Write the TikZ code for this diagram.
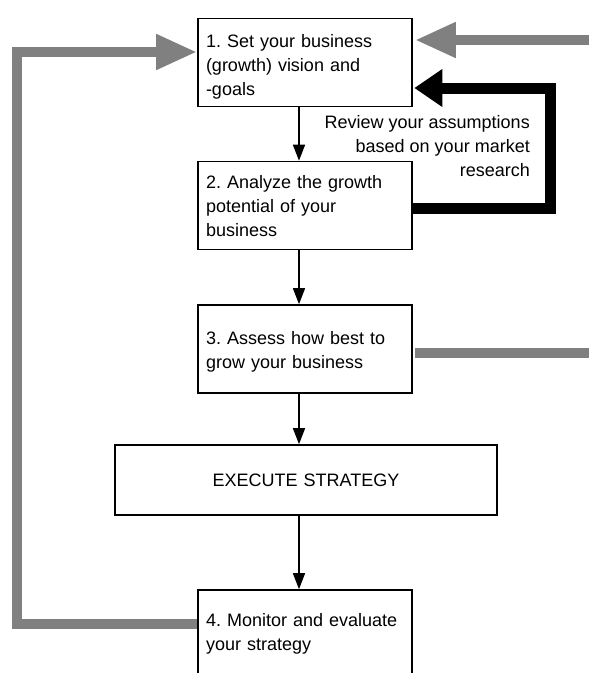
\documentclass[tikz,border=0pt]{standalone}
\usepackage{fontspec}
\setmainfont{Liberation Sans}
\usetikzlibrary{arrows.meta,calc}
\definecolor{band}{HTML}{808080}
\newcommand\dropby[1]{\rule{0pt}{\dimexpr 12.9pt+#1pt+#1pt\relax}}
\frenchspacing
\begin{document}
\begin{tikzpicture}[x=1pt,y=-1pt,
  txt/.style={font=\fontsize{18}{24}\selectfont\frenchspacing},
  box/.style={txt, draw, line width=1.6pt, text width=198pt, inner xsep=8pt, inner ysep=0pt,
    minimum height=88pt, align=left},
  flow/.style={line width=1.5pt, -{Triangle[length=16pt,width=12pt]}},
  grayarrow/.style={draw=band, line width=10.5pt, line join=miter, -{Triangle[length=41pt,width=33pt]}},
  grayline/.style={draw=band, line width=10.5pt},
  blackarrow/.style={draw=black, line width=11pt, line join=miter, -{Triangle[length=28pt,width=36pt]}}]
\useasboundingbox (0,0) rectangle (589,673);
\clip (0,0) rectangle (589,673);
\node[box] (b1) at (305,62.5) {\dropby{4}1. Set your business\\(growth) vision and\\-goals};
\node[box] (b2) at (305,205.5) {\dropby{1}2. Analyze the growth\\potential of your\\business};
\node[box] (b3) at (305,349) {\dropby{3}3. Assess how best to\\grow your business};
\node[box, text width=366pt, minimum height=70pt, align=center] (ex) at (306,480) {EXECUTE STRATEGY};
\node[box] (b4) at (305,634) {4. Monitor and evaluate\\your strategy};
\node[txt, align=right, anchor=base east, inner sep=0pt] (lbl) at (530,176) {Review your assumptions\\based on your market\\research};
\coordinate (ax) at (299,0);
\draw[flow] (b1.south -| ax) -- (b2.north -| ax);
\draw[flow] (b2.south -| ax) -- (b3.north -| ax);
\draw[flow] (b3.south -| ax) -- (ex.north -| ax);
\draw[flow] (ex.south -| ax) -- (b4.north -| ax);
\coordinate (fb2) at (550,208);
\coordinate (fb1) at (550,88);
\draw[blackarrow] (fb2 -| b2.east) -- (fb2) -- (fb1) -- ($(fb1 -| b1.east)+(1.5,0)$);
\coordinate (gr1) at (589,40);
\draw[grayarrow] (gr1) -- ($(gr1 -| b1.east)+(2,0)$);
\coordinate (gr3) at (589,353);
\draw[grayline] ($(b3.east |- gr3)+(2,0)$) -- (gr3);
\coordinate (gl1) at (17,52);
\coordinate (gl4) at (17,624);
\draw[grayarrow] (gl4 -| b4.west) -- (gl4) -- (gl1) -- (gl1 -| b1.west);
\end{tikzpicture}
\end{document}
